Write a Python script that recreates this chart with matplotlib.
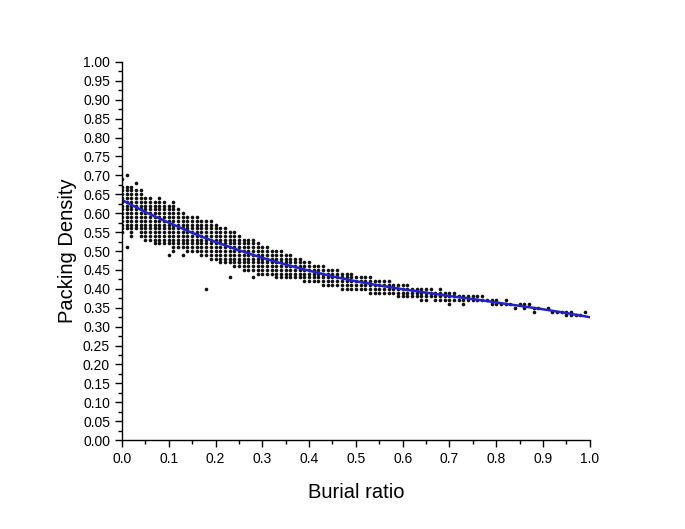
import numpy as np
import matplotlib
matplotlib.use("Agg")
import matplotlib.pyplot as plt
from matplotlib.ticker import MultipleLocator, FormatStrFormatter

plt.rcParams['font.family'] = ['Liberation Sans', 'DejaVu Sans']

# dense band: one column every 0.01 burial ratio, top and bottom of the column (in 0.01 units)
band_x = [round(0.01 * i, 2) for i in range(81)]
band_hi = [67, 67, 67, 66, 66, 64, 64, 63, 64, 63,
           62, 62, 61, 60, 59, 59, 59, 58, 58, 58,
           57, 56, 56, 55, 55, 54, 53, 53, 53, 52,
           51, 51, 50, 50, 50, 49, 49, 48, 48, 47,
           47, 46, 46, 46, 45, 45, 45, 44, 44, 44,
           43, 43, 43, 43, 42, 42, 42, 42, 41, 41,
           41, 41, 40, 40, 40, 40, 40, 39, 40, 39,
           39, 39, 38, 38, 38, 38, 38, 38, 37, 37,
           37]
band_lo = [55, 56, 55, 56, 54, 53, 53, 52, 52, 52,
           52, 51, 51, 51, 50, 50, 50, 49, 49, 48,
           48, 47, 47, 47, 46, 46, 45, 45, 45, 44,
           44, 44, 44, 43, 43, 43, 43, 43, 43, 42,
           42, 42, 42, 41, 41, 41, 41, 40, 40, 40,
           40, 40, 40, 39, 39, 39, 39, 39, 39, 38,
           38, 38, 38, 38, 37, 37, 38, 37, 37, 37,
           36, 37, 37, 36, 37, 37, 37, 37, 37, 36,
           36]

# sparse tail and outliers
extra_x = [0.81, 0.82, 0.82, 0.83, 0.84, 0.85, 0.86, 0.86, 0.87, 0.88, 0.88, 0.89,
           0.91, 0.92, 0.93, 0.94, 0.95, 0.95, 0.96, 0.96, 0.97, 0.98, 0.99,
           0.00, 0.01, 0.03, 0.01, 0.02, 0.10, 0.11, 0.13, 0.18, 0.23, 0.28, 0.11, 0.25]
extra_y = [0.36, 0.37, 0.36, 0.36, 0.35, 0.36, 0.35, 0.36, 0.36, 0.35, 0.34, 0.35,
           0.35, 0.34, 0.34, 0.34, 0.33, 0.34, 0.34, 0.33, 0.33, 0.33, 0.34,
           0.69, 0.70, 0.68, 0.51, 0.54, 0.49, 0.50, 0.49, 0.40, 0.43, 0.43, 0.63, 0.47]

# fitted curve
fit_x = [0.00, 0.05, 0.10, 0.15, 0.20, 0.25, 0.30, 0.35, 0.40, 0.45, 0.50,
         0.55, 0.60, 0.65, 0.70, 0.75, 0.80, 0.85, 0.90, 0.95, 1.00]
fit_y = [0.635, 0.603, 0.575, 0.548, 0.524, 0.502, 0.482, 0.464, 0.448, 0.433, 0.420,
         0.409, 0.399, 0.390, 0.381, 0.373, 0.364, 0.355, 0.346, 0.336, 0.325]

px, py = [], []
for x, hi, lo in zip(band_x, band_hi, band_lo):
    for v in range(lo, hi + 1):
        px.append(x)
        py.append(v / 100)
px += extra_x
py += extra_y

fig = plt.figure(figsize=(6.85, 5.29), dpi=100)
ax = fig.add_axes([0.178, 0.168, 0.683, 0.715])

ax.plot(px, py, 'o', color='#111111', markersize=2.6, markeredgewidth=0)
ax.plot(fit_x, fit_y, color='#2323c8', linewidth=1.8)

ax.set_xlim(0, 1.0)
ax.set_ylim(0, 1.0)
ax.xaxis.set_major_locator(MultipleLocator(0.1))
ax.xaxis.set_minor_locator(MultipleLocator(0.05))
ax.yaxis.set_major_locator(MultipleLocator(0.05))
ax.yaxis.set_minor_locator(MultipleLocator(0.025))
ax.xaxis.set_major_formatter(FormatStrFormatter('%.1f'))
ax.yaxis.set_major_formatter(FormatStrFormatter('%.2f'))

for s in ['top', 'right']:
    ax.spines[s].set_visible(False)
for s in ['left', 'bottom']:
    ax.spines[s].set_linewidth(1.0)

ax.tick_params(which='major', direction='out', length=5, width=1, labelsize=10)
ax.tick_params(which='minor', direction='out', length=3, width=1)

ax.set_xlabel('Burial ratio', fontsize=14.5, labelpad=12)
ax.set_ylabel('Packing Density', fontsize=14.5, labelpad=4)

fig.savefig('out.png', dpi=100)
